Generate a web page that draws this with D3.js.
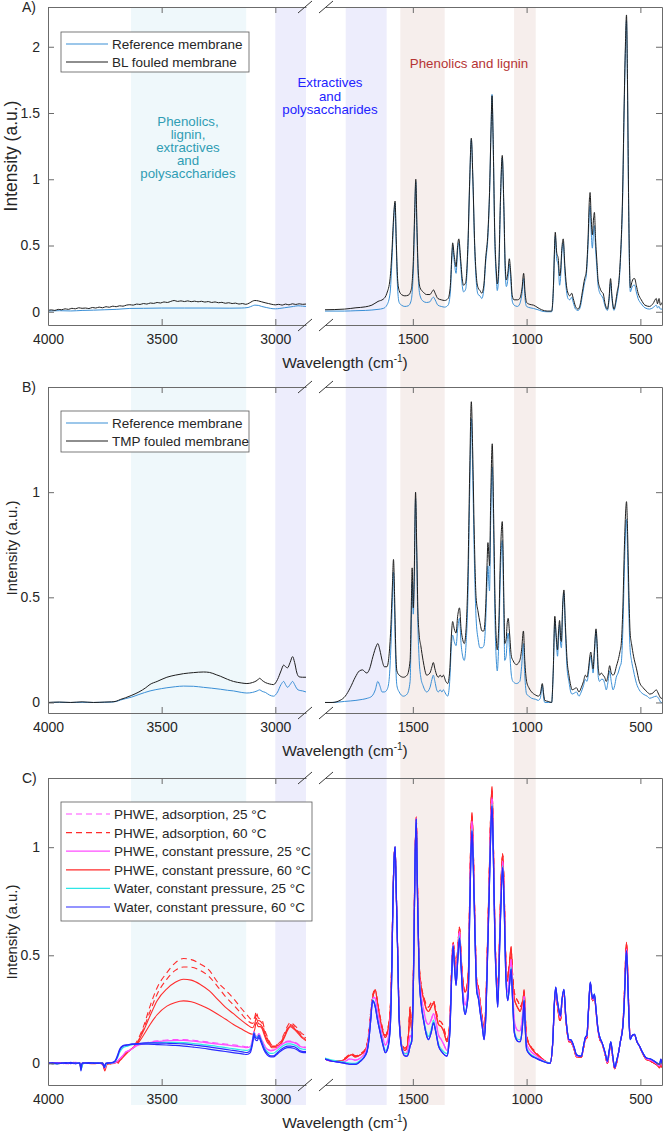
<!DOCTYPE html>
<html>
<head>
  <meta charset="utf-8">
  <title>Raman spectra of fouled membranes</title>
  <script src="https://cdn.jsdelivr.net/npm/d3@7/dist/d3.min.js"></script>
  <style>
    body { margin: 0; background: #fff; }
    svg text { font-family: "Liberation Sans", Arial, Helvetica, sans-serif; fill: #262626; }
  </style>
</head>
<body>
<div id="chart"></div>
<script>
  // ---- data: [wavenumber (cm-1), intensity (a.u.)] ----

  // tick labels
  const xTicksLeft = [4000, 3500, 3000];
  const xTicksRight = [1500, 1000, 500];
  const yTicksA = [0, 0.5, 1, 1.5, 2];
  const yTicksB = [0, 0.5, 1];
  const yTicksC = [0, 0.5, 1];

  // shaded assignment regions (wavenumber limits)
  const regionCyan = [3635, 3128];
  const regionPurple = [[3000, 2865], [1795, 1615]];
  const regionPink = [[1555, 1360], [1055, 960]];

  // panel A
  const aRefLeft = [[4000,0.005],[3950,0.008],[3900,0.006],[3850,0.01],[3800,0.012],[3750,0.015],[3700,0.018],[3640,0.025],[3580,0.026],[3500,0.028],[3400,0.028],[3300,0.028],[3200,0.027],[3150,0.028],[3120,0.032],[3100,0.045],[3090,0.05],[3075,0.048],[3060,0.04],[3040,0.032],[3020,0.025],[3000,0.022],[2980,0.025],[2960,0.03],[2940,0.035],[2920,0.04],[2900,0.045],[2880,0.042],[2865,0.04]];
  const aBLLeft = [[4000,0.01],[3985,0.014],[3970,0.01],[3955,0.018],[3940,0.015],[3925,0.022],[3910,0.018],[3895,0.026],[3880,0.022],[3865,0.03],[3850,0.026],[3835,0.028],[3820,0.024],[3805,0.032],[3790,0.028],[3775,0.035],[3760,0.03],[3745,0.038],[3730,0.034],[3715,0.042],[3700,0.038],[3685,0.045],[3670,0.042],[3655,0.05],[3640,0.053],[3625,0.05],[3610,0.058],[3595,0.055],[3580,0.062],[3565,0.058],[3550,0.066],[3535,0.063],[3520,0.07],[3505,0.066],[3490,0.074],[3475,0.07],[3460,0.078],[3445,0.085],[3430,0.078],[3415,0.082],[3400,0.077],[3385,0.082],[3370,0.076],[3355,0.08],[3340,0.075],[3325,0.079],[3310,0.073],[3295,0.077],[3280,0.07],[3265,0.074],[3250,0.068],[3235,0.071],[3220,0.064],[3205,0.068],[3190,0.062],[3175,0.065],[3160,0.058],[3145,0.062],[3130,0.056],[3115,0.065],[3100,0.08],[3090,0.085],[3075,0.082],[3060,0.075],[3045,0.068],[3030,0.062],[3015,0.056],[3000,0.052],[2985,0.056],[2970,0.05],[2955,0.058],[2940,0.052],[2925,0.06],[2910,0.055],[2895,0.06],[2880,0.056],[2865,0.058]];
  const aRefRight = [[1886,0.005],[1800,0.005],[1750,0.008],[1709,0.01],[1680,0.013],[1653,0.018],[1630,0.025],[1614,0.05],[1600,0.14],[1592,0.38],[1585,0.66],[1578,0.82],[1573,0.5],[1567,0.18],[1560,0.07],[1550,0.05],[1535,0.04],[1520,0.045],[1508,0.08],[1498,0.3],[1492,0.7],[1487,0.98],[1482,0.6],[1476,0.25],[1468,0.12],[1455,0.08],[1440,0.07],[1425,0.075],[1416,0.1],[1409,0.11],[1402,0.09],[1390,0.05],[1375,0.04],[1360,0.035],[1345,0.05],[1335,0.15],[1328,0.42],[1325,0.49],[1318,0.38],[1310,0.29],[1303,0.47],[1298,0.52],[1290,0.36],[1283,0.2],[1277,0.15],[1268,0.17],[1258,0.47],[1250,0.98],[1243,1.3],[1236,0.98],[1228,0.47],[1220,0.2],[1213,0.13],[1205,0.12],[1197,0.1],[1188,0.17],[1180,0.37],[1170,0.57],[1163,0.88],[1156,1.4],[1152,1.64],[1147,1.28],[1140,0.55],[1133,0.25],[1129,0.16],[1122,0.3],[1115,0.82],[1107,1.16],[1100,0.77],[1094,0.3],[1089,0.19],[1082,0.25],[1076,0.36],[1070,0.25],[1063,0.08],[1055,0.05],[1040,0.04],[1030,0.06],[1020,0.14],[1013,0.25],[1007,0.1],[1000,0.04],[985,0.03],[970,0.025],[950,0.015],[934,0.005],[910,0.0],[890,0.0],[882,0.18],[877,0.47],[874,0.57],[868,0.4],[861,0.35],[855,0.2],[851,0.25],[845,0.45],[839,0.52],[832,0.3],[825,0.16],[818,0.1],[810,0.09],[802,0.11],[795,0.07],[785,0.02],[774,0.01],[765,0.03],[755,0.12],[745,0.22],[738,0.27],[730,0.5],[724,0.75],[721,0.8],[716,0.6],[711,0.48],[706,0.6],[702,0.65],[697,0.48],[690,0.3],[686,0.2],[678,0.14],[670,0.12],[664,0.1],[655,0.04],[645,0.01],[638,0.08],[631,0.22],[625,0.1],[616,0.01],[608,0.06],[602,0.12],[595,0.2],[588,0.37],[584,0.52],[578,0.85],[572,1.45],[566,1.95],[561,2.2],[557,1.75],[552,0.85],[547,0.25],[544,0.15],[538,0.18],[530,0.2],[525,0.2],[518,0.15],[510,0.1],[496,0.06],[480,0.03],[460,0.02],[445,0.03],[430,0.05],[425,0.03],[418,0.04],[412,0.02],[405,0.02]];
  const aBLRight = [[1886,0.015],[1800,0.02],[1750,0.03],[1709,0.037],[1680,0.05],[1653,0.078],[1630,0.095],[1614,0.14],[1600,0.25],[1592,0.45],[1585,0.7],[1578,0.835],[1573,0.55],[1567,0.25],[1560,0.16],[1550,0.13],[1535,0.12],[1520,0.125],[1508,0.16],[1498,0.38],[1492,0.75],[1487,1.0],[1482,0.65],[1476,0.3],[1468,0.18],[1455,0.15],[1440,0.13],[1425,0.13],[1416,0.15],[1409,0.165],[1402,0.14],[1390,0.1],[1375,0.09],[1360,0.085],[1345,0.1],[1335,0.2],[1328,0.45],[1325,0.52],[1318,0.42],[1310,0.34],[1303,0.5],[1298,0.55],[1290,0.4],[1283,0.25],[1277,0.2],[1268,0.22],[1258,0.5],[1250,1.0],[1243,1.31],[1236,1.0],[1228,0.5],[1220,0.25],[1213,0.18],[1205,0.16],[1197,0.14],[1188,0.2],[1180,0.4],[1170,0.6],[1163,0.9],[1156,1.4],[1152,1.63],[1147,1.3],[1140,0.6],[1133,0.3],[1129,0.21],[1122,0.35],[1115,0.85],[1107,1.18],[1100,0.8],[1094,0.35],[1089,0.24],[1082,0.3],[1076,0.4],[1070,0.3],[1063,0.12],[1055,0.09],[1040,0.09],[1030,0.1],[1020,0.18],[1013,0.29],[1007,0.15],[1000,0.07],[985,0.055],[970,0.05],[950,0.03],[934,0.015],[910,0.005],[890,0.005],[882,0.2],[877,0.5],[874,0.6],[868,0.45],[861,0.4],[855,0.27],[851,0.3],[845,0.48],[839,0.55],[832,0.35],[825,0.2],[818,0.14],[810,0.12],[802,0.14],[795,0.1],[785,0.04],[774,0.02],[765,0.05],[755,0.15],[745,0.25],[738,0.3],[730,0.55],[724,0.85],[721,0.9],[716,0.7],[711,0.58],[706,0.7],[702,0.75],[697,0.55],[690,0.35],[686,0.24],[678,0.18],[670,0.15],[664,0.14],[655,0.06],[645,0.02],[638,0.1],[631,0.25],[625,0.12],[616,0.02],[608,0.08],[602,0.15],[595,0.22],[588,0.4],[584,0.55],[578,0.9],[572,1.5],[566,2.0],[561,2.24],[557,1.8],[552,0.9],[547,0.3],[544,0.18],[538,0.22],[530,0.25],[525,0.25],[518,0.2],[510,0.14],[496,0.09],[480,0.05],[460,0.04],[445,0.06],[430,0.1],[425,0.06],[418,0.1],[412,0.05],[405,0.07]];

  // panel B
  const bRefLeft = [[4000,0],[3950,0.001],[3900,0],[3850,0.001],[3800,0],[3750,0.001],[3720,0.002],[3700,0.005],[3680,0.012],[3660,0.018],[3634,0.025],[3600,0.038],[3551,0.055],[3500,0.066],[3477,0.07],[3440,0.075],[3404,0.078],[3360,0.077],[3316,0.072],[3280,0.068],[3242,0.063],[3210,0.058],[3184,0.055],[3150,0.048],[3125,0.045],[3100,0.048],[3080,0.055],[3069,0.06],[3058,0.053],[3044,0.048],[3025,0.035],[3008,0.03],[2990,0.05],[2975,0.085],[2963,0.1],[2955,0.085],[2946,0.072],[2935,0.085],[2924,0.1],[2915,0.085],[2905,0.065],[2895,0.058],[2880,0.055],[2865,0.05]];
  const bTMPLeft = [[4000,0],[3950,0.002],[3900,0],[3850,0.003],[3800,0],[3750,0.002],[3720,0.003],[3700,0.006],[3680,0.015],[3660,0.022],[3634,0.033],[3600,0.05],[3570,0.07],[3551,0.086],[3520,0.1],[3477,0.12],[3440,0.13],[3404,0.137],[3360,0.142],[3316,0.145],[3290,0.143],[3260,0.132],[3242,0.125],[3210,0.11],[3184,0.1],[3150,0.093],[3125,0.09],[3100,0.095],[3080,0.105],[3069,0.115],[3058,0.105],[3044,0.095],[3025,0.088],[3008,0.085],[2990,0.11],[2975,0.15],[2963,0.178],[2955,0.17],[2946,0.165],[2935,0.19],[2924,0.218],[2915,0.19],[2905,0.14],[2895,0.122],[2880,0.12],[2865,0.12]];
  const bRefRight = [[1886,0],[1855,0],[1800,0.005],[1750,0.01],[1720,0.015],[1700,0.02],[1680,0.03],[1665,0.06],[1654,0.1],[1645,0.08],[1635,0.05],[1625,0.05],[1614,0.06],[1605,0.1],[1597,0.25],[1590,0.48],[1585,0.62],[1580,0.42],[1575,0.18],[1570,0.08],[1560,0.05],[1541,0.03],[1525,0.04],[1512,0.1],[1506,0.42],[1503,0.57],[1498,0.42],[1494,0.55],[1488,0.97],[1483,0.7],[1478,0.38],[1472,0.2],[1465,0.12],[1455,0.08],[1439,0.05],[1425,0.07],[1416,0.11],[1410,0.13],[1403,0.1],[1395,0.06],[1388,0.05],[1380,0.06],[1372,0.05],[1366,0.06],[1355,0.04],[1347,0.03],[1338,0.1],[1330,0.28],[1325,0.32],[1318,0.29],[1310,0.27],[1303,0.35],[1295,0.4],[1288,0.28],[1281,0.22],[1274,0.2],[1266,0.28],[1258,0.5],[1250,1.0],[1243,1.35],[1237,1.1],[1230,0.7],[1222,0.4],[1213,0.3],[1205,0.26],[1196,0.26],[1188,0.27],[1180,0.38],[1174,0.57],[1170,0.65],[1165,0.55],[1163,0.53],[1158,0.85],[1151,1.12],[1145,0.8],[1138,0.35],[1132,0.18],[1129,0.15],[1122,0.3],[1115,0.62],[1107,0.77],[1100,0.42],[1096,0.2],[1090,0.22],[1085,0.3],[1081,0.33],[1075,0.25],[1067,0.13],[1060,0.1],[1045,0.09],[1030,0.1],[1022,0.17],[1014,0.28],[1008,0.13],[1000,0.04],[990,0.03],[978,0.02],[960,0.015],[949,0.01],[940,0.02],[931,0.08],[925,0.02],[920,0],[905,0],[890,0],[883,0.14],[876,0.39],[870,0.3],[864,0.22],[860,0.3],[855,0.37],[850,0.27],[847,0.26],[842,0.43],[836,0.52],[830,0.35],[822,0.16],[814,0.1],[806,0.05],[800,0.04],[790,0.045],[781,0.05],[770,0.03],[760,0.05],[750,0.08],[742,0.11],[735,0.1],[728,0.14],[722,0.2],[718,0.22],[712,0.17],[708,0.14],[702,0.23],[695,0.34],[690,0.25],[685,0.12],[679,0.1],[672,0.11],[664,0.11],[657,0.09],[650,0.06],[642,0.1],[635,0.15],[628,0.1],[620,0.06],[613,0.08],[606,0.12],[598,0.14],[590,0.17],[584,0.19],[577,0.35],[570,0.65],[565,0.82],[561,0.87],[556,0.7],[550,0.4],[545,0.25],[539,0.2],[530,0.15],[517,0.09],[505,0.06],[488,0.04],[470,0.03],[459,0.02],[445,0.025],[430,0.03],[420,0.02],[409,0],[405,0]];
  const bTMPRight = [[1886,0],[1855,0],[1820,0.01],[1797,0.03],[1775,0.07],[1753,0.12],[1735,0.15],[1721,0.155],[1710,0.145],[1702,0.14],[1690,0.16],[1675,0.22],[1660,0.27],[1654,0.28],[1645,0.25],[1635,0.2],[1625,0.17],[1614,0.17],[1605,0.22],[1597,0.35],[1590,0.55],[1585,0.68],[1580,0.5],[1575,0.25],[1570,0.15],[1560,0.13],[1541,0.12],[1525,0.13],[1512,0.2],[1506,0.5],[1503,0.64],[1498,0.45],[1494,0.6],[1488,1.0],[1483,0.75],[1478,0.45],[1472,0.32],[1465,0.27],[1455,0.2],[1439,0.13],[1425,0.14],[1416,0.17],[1410,0.19],[1403,0.16],[1395,0.13],[1388,0.12],[1380,0.13],[1372,0.12],[1366,0.13],[1355,0.1],[1347,0.09],[1338,0.15],[1330,0.33],[1325,0.385],[1318,0.35],[1310,0.33],[1303,0.41],[1295,0.45],[1288,0.35],[1281,0.3],[1274,0.28],[1266,0.35],[1258,0.6],[1250,1.1],[1243,1.43],[1237,1.2],[1230,0.8],[1222,0.5],[1213,0.43],[1205,0.38],[1196,0.34],[1188,0.34],[1180,0.45],[1174,0.65],[1170,0.76],[1165,0.68],[1163,0.65],[1158,0.95],[1151,1.23],[1145,0.9],[1138,0.45],[1132,0.28],[1129,0.25],[1122,0.38],[1115,0.7],[1107,0.86],[1100,0.5],[1096,0.28],[1090,0.3],[1085,0.38],[1081,0.4],[1075,0.33],[1067,0.22],[1060,0.2],[1045,0.18],[1030,0.2],[1022,0.25],[1014,0.34],[1008,0.2],[1000,0.1],[990,0.07],[978,0.05],[960,0.035],[949,0.03],[940,0.04],[931,0.09],[925,0.04],[920,0.01],[905,0.005],[890,0],[883,0.15],[876,0.41],[870,0.32],[864,0.25],[860,0.33],[855,0.39],[850,0.3],[847,0.29],[842,0.45],[836,0.535],[830,0.38],[822,0.2],[814,0.13],[806,0.08],[800,0.06],[790,0.065],[781,0.07],[770,0.05],[760,0.07],[750,0.1],[742,0.13],[735,0.12],[728,0.16],[722,0.22],[718,0.24],[712,0.19],[708,0.16],[702,0.25],[695,0.35],[690,0.28],[685,0.16],[679,0.13],[672,0.14],[664,0.13],[657,0.12],[650,0.1],[642,0.13],[635,0.175],[628,0.14],[620,0.13],[613,0.14],[606,0.17],[598,0.2],[590,0.24],[584,0.28],[577,0.45],[570,0.75],[565,0.9],[561,0.955],[556,0.8],[550,0.5],[545,0.33],[539,0.28],[530,0.22],[517,0.16],[505,0.1],[488,0.07],[470,0.05],[459,0.04],[445,0.045],[430,0.06],[420,0.04],[409,0.02],[405,0.02]];

  // panel C, high wavenumber side (one array per curve)
  const cRedDashLeft1 = [[4000,0],[3960,0.003],[3920,-0.002],[3880,0.005],[3860,0],[3855,-0.02],[3845,0],[3800,0.002],[3760,-0.005],[3750,-0.03],[3740,-0.005],[3720,0],[3700,0.01],[3690,0],[3680,0.02],[3665,0.04],[3640,0.06],[3610,0.1],[3580,0.17],[3551,0.265],[3520,0.35],[3477,0.42],[3440,0.465],[3404,0.485],[3370,0.48],[3330,0.46],[3290,0.43],[3257,0.38],[3220,0.34],[3184,0.3],[3150,0.255],[3125,0.225],[3100,0.2],[3090,0.215],[3084,0.24],[3075,0.21],[3066,0.205],[3058,0.2],[3048,0.16],[3037,0.128],[3025,0.1],[3015,0.085],[3000,0.085],[2978,0.1],[2960,0.14],[2945,0.175],[2934,0.19],[2920,0.18],[2905,0.165],[2885,0.14],[2865,0.128]];
  const cRedDashLeft2 = [[4000,0.002],[3960,0],[3920,0.003],[3880,-0.002],[3860,0.002],[3855,-0.015],[3845,0.002],[3800,0],[3760,0.002],[3750,-0.025],[3740,0],[3720,-0.003],[3700,0.005],[3690,0.01],[3680,0.018],[3665,0.035],[3640,0.06],[3610,0.09],[3580,0.16],[3551,0.24],[3520,0.32],[3477,0.39],[3440,0.43],[3404,0.446],[3370,0.445],[3330,0.43],[3290,0.4],[3257,0.36],[3220,0.31],[3184,0.27],[3150,0.23],[3125,0.2],[3100,0.185],[3090,0.2],[3084,0.225],[3075,0.2],[3066,0.195],[3058,0.185],[3048,0.15],[3037,0.12],[3025,0.095],[3015,0.08],[3000,0.08],[2978,0.095],[2960,0.13],[2945,0.165],[2934,0.18],[2920,0.172],[2905,0.155],[2885,0.13],[2865,0.118]];
  const cRedSolidLeft1 = [[4000,-0.002],[3960,0.002],[3920,0],[3880,0.004],[3860,-0.002],[3855,-0.025],[3845,0],[3800,0.003],[3760,0],[3750,-0.035],[3740,-0.003],[3720,0.002],[3700,0.008],[3690,0.003],[3680,0.02],[3665,0.04],[3640,0.06],[3610,0.09],[3580,0.15],[3551,0.22],[3520,0.29],[3477,0.345],[3440,0.375],[3404,0.389],[3370,0.385],[3330,0.365],[3290,0.335],[3257,0.3],[3220,0.26],[3184,0.23],[3150,0.2],[3125,0.18],[3100,0.165],[3090,0.185],[3084,0.21],[3075,0.185],[3066,0.18],[3058,0.17],[3048,0.14],[3037,0.11],[3025,0.09],[3015,0.078],[3000,0.078],[2978,0.09],[2960,0.125],[2945,0.16],[2934,0.175],[2920,0.165],[2905,0.15],[2885,0.125],[2865,0.11]];
  const cRedSolidLeft2 = [[4000,0.001],[3960,-0.002],[3920,0.004],[3880,0],[3860,0.003],[3855,-0.01],[3845,0.002],[3800,-0.002],[3760,0.003],[3750,-0.02],[3740,0.002],[3720,-0.002],[3700,0.004],[3690,0.012],[3680,0.016],[3665,0.035],[3640,0.06],[3610,0.085],[3580,0.13],[3551,0.18],[3520,0.225],[3477,0.265],[3440,0.282],[3404,0.289],[3370,0.285],[3330,0.27],[3290,0.25],[3257,0.23],[3220,0.205],[3184,0.18],[3150,0.16],[3125,0.145],[3100,0.135],[3090,0.16],[3084,0.19],[3075,0.17],[3066,0.17],[3058,0.16],[3048,0.13],[3037,0.1],[3025,0.085],[3015,0.072],[3000,0.072],[2978,0.085],[2960,0.12],[2945,0.155],[2934,0.17],[2920,0.16],[2905,0.145],[2885,0.12],[2865,0.105]];
  const cMagDashLeft = [[4000,0.002],[3960,0],[3920,0.004],[3880,0.001],[3860,0.003],[3855,-0.012],[3845,0.002],[3800,0.001],[3760,0.003],[3750,-0.015],[3740,0.002],[3720,0.001],[3700,0.006],[3690,0.016],[3675,0.032],[3660,0.052],[3640,0.062],[3620,0.078],[3600,0.088],[3560,0.098],[3520,0.104],[3480,0.108],[3440,0.11],[3404,0.11],[3360,0.107],[3320,0.102],[3280,0.097],[3240,0.092],[3200,0.087],[3160,0.082],[3140,0.079],[3125,0.077],[3110,0.082],[3100,0.113],[3094,0.148],[3088,0.133],[3080,0.128],[3072,0.138],[3064,0.123],[3050,0.088],[3035,0.068],[3020,0.061],[3008,0.063],[2995,0.071],[2980,0.083],[2960,0.098],[2945,0.103],[2934,0.103],[2920,0.1],[2905,0.093],[2890,0.081],[2875,0.077],[2865,0.075]];
  const cMagSolidLeft = [[4000,0],[3960,0.003],[3920,-0.001],[3880,0.004],[3860,0],[3855,-0.018],[3845,0.001],[3800,0.002],[3760,-0.002],[3750,-0.022],[3740,0],[3720,0.003],[3700,0.005],[3690,0.015],[3675,0.03],[3660,0.05],[3640,0.06],[3620,0.075],[3600,0.085],[3560,0.095],[3520,0.1],[3480,0.104],[3440,0.106],[3404,0.106],[3360,0.103],[3320,0.098],[3280,0.093],[3240,0.088],[3200,0.083],[3160,0.078],[3140,0.075],[3125,0.073],[3110,0.078],[3100,0.11],[3094,0.145],[3088,0.13],[3080,0.125],[3072,0.135],[3064,0.12],[3050,0.085],[3035,0.065],[3020,0.058],[3008,0.06],[2995,0.068],[2980,0.08],[2960,0.095],[2945,0.1],[2934,0.1],[2920,0.097],[2905,0.09],[2890,0.078],[2875,0.074],[2865,0.072]];
  const cCyanLeft = [[4000,0.001],[3960,-0.002],[3920,0.003],[3880,0],[3860,0.002],[3855,-0.03],[3845,0],[3800,0.002],[3760,0.001],[3750,-0.018],[3740,0.001],[3720,0.002],[3705,0.008],[3695,0.025],[3685,0.05],[3670,0.072],[3650,0.08],[3630,0.086],[3600,0.09],[3560,0.094],[3520,0.096],[3480,0.097],[3440,0.097],[3404,0.096],[3360,0.092],[3320,0.087],[3280,0.082],[3240,0.076],[3200,0.07],[3160,0.064],[3140,0.061],[3125,0.06],[3110,0.068],[3100,0.105],[3094,0.142],[3088,0.126],[3080,0.12],[3072,0.132],[3064,0.115],[3050,0.077],[3035,0.054],[3020,0.046],[3008,0.047],[2995,0.056],[2980,0.07],[2960,0.085],[2945,0.09],[2934,0.09],[2920,0.087],[2905,0.08],[2890,0.068],[2875,0.065],[2865,0.064]];
  const cBlueLeft1 = [[4000,0],[3980,0.004],[3960,-0.002],[3940,0.003],[3920,0],[3900,0.005],[3880,-0.002],[3860,0.003],[3855,-0.035],[3850,0],[3820,0.004],[3800,0],[3780,0.003],[3760,-0.003],[3752,-0.02],[3745,0],[3720,0.004],[3705,0.01],[3695,0.03],[3685,0.06],[3670,0.08],[3650,0.085],[3630,0.09],[3600,0.092],[3560,0.095],[3520,0.094],[3480,0.093],[3440,0.092],[3404,0.09],[3360,0.085],[3320,0.08],[3280,0.074],[3240,0.068],[3200,0.062],[3160,0.056],[3140,0.052],[3125,0.05],[3110,0.06],[3100,0.1],[3094,0.14],[3088,0.12],[3080,0.115],[3072,0.13],[3064,0.11],[3050,0.07],[3035,0.045],[3020,0.035],[3008,0.035],[2995,0.045],[2980,0.06],[2960,0.075],[2945,0.08],[2934,0.08],[2920,0.078],[2905,0.07],[2890,0.058],[2875,0.055],[2865,0.055]];
  const cBlueLeft2 = [[4000,0.002],[3980,-0.001],[3960,0.003],[3940,0],[3920,0.004],[3900,-0.001],[3880,0.003],[3860,0],[3855,-0.02],[3850,0.002],[3820,0],[3800,0.003],[3780,0],[3760,0.002],[3752,-0.012],[3745,0.001],[3720,0.002],[3705,0.012],[3695,0.035],[3685,0.065],[3670,0.082],[3650,0.086],[3630,0.088],[3600,0.089],[3560,0.089],[3520,0.087],[3480,0.085],[3440,0.083],[3404,0.08],[3360,0.075],[3320,0.07],[3280,0.064],[3240,0.058],[3200,0.052],[3160,0.046],[3140,0.043],[3125,0.041],[3110,0.05],[3100,0.09],[3094,0.13],[3088,0.11],[3080,0.105],[3072,0.12],[3064,0.1],[3050,0.062],[3035,0.038],[3020,0.03],[3008,0.03],[2995,0.04],[2980,0.054],[2960,0.068],[2945,0.073],[2934,0.073],[2920,0.07],[2905,0.063],[2890,0.053],[2875,0.05],[2865,0.05]];

  // panel C, fingerprint side (one array per colour group)
  const cRedDashRight = [[1886,0.02],[1855,0.012],[1820,0.012],[1797,0.025],[1780,0.04],[1770,0.045],[1753,0.035],[1730,0.045],[1709,0.065],[1700,0.095],[1694,0.14],[1685,0.24],[1677,0.31],[1670,0.335],[1665,0.335],[1655,0.28],[1643,0.21],[1630,0.15],[1621,0.13],[1610,0.16],[1599,0.26],[1592,0.5],[1588,0.73],[1582,0.96],[1578,1.0],[1573,0.8],[1566,0.5],[1560,0.23],[1548,0.09],[1535,0.07],[1526,0.08],[1518,0.16],[1512,0.26],[1505,0.16],[1497,0.45],[1490,0.97],[1485,1.14],[1480,0.85],[1472,0.46],[1463,0.36],[1453,0.31],[1440,0.27],[1431,0.26],[1420,0.28],[1409,0.29],[1400,0.25],[1387,0.2],[1375,0.19],[1365,0.17],[1350,0.11],[1342,0.14],[1336,0.23],[1330,0.43],[1323,0.56],[1317,0.5],[1310,0.43],[1303,0.53],[1295,0.63],[1288,0.5],[1280,0.38],[1270,0.33],[1263,0.35],[1256,0.42],[1250,0.78],[1245,1.04],[1240,1.14],[1234,0.97],[1226,0.6],[1219,0.38],[1212,0.35],[1204,0.28],[1195,0.21],[1187,0.16],[1180,0.25],[1172,0.55],[1164,0.88],[1158,1.14],[1152,1.26],[1146,1.01],[1139,0.6],[1132,0.4],[1127,0.32],[1122,0.45],[1117,0.66],[1110,0.89],[1105,0.96],[1098,0.77],[1092,0.5],[1083,0.4],[1076,0.46],[1068,0.52],[1062,0.42],[1054,0.33],[1045,0.3],[1035,0.28],[1029,0.26],[1020,0.28],[1015,0.3],[1011,0.33],[1005,0.2],[1000,0.13],[985,0.085],[963,0.055],[930,0.02],[897,0.0],[885,0.1],[878,0.27],[872,0.34],[866,0.28],[861,0.24],[855,0.2],[851,0.2],[845,0.28],[836,0.33],[828,0.21],[820,0.13],[814,0.1],[807,0.1],[800,0.09],[790,0.06],[781,0.03],[770,0.03],[759,0.03],[750,0.07],[742,0.11],[735,0.12],[728,0.24],[720,0.37],[714,0.31],[709,0.29],[702,0.31],[695,0.24],[686,0.15],[678,0.11],[668,0.09],[655,0.04],[645,0.0],[637,0.05],[630,0.09],[622,0.03],[613,-0.025],[605,0.0],[596,0.05],[588,0.1],[577,0.18],[570,0.33],[565,0.48],[561,0.55],[556,0.43],[550,0.22],[545,0.12],[535,0.13],[526,0.13],[515,0.1],[504,0.08],[490,0.045],[475,0.02],[455,0.01],[438,0.0],[425,-0.01],[416,-0.02],[410,0.0],[405,-0.02]];
  const cRedSolidRight = [[1886,0.02],[1855,0.01],[1820,0.01],[1797,0.02],[1780,0.035],[1770,0.04],[1753,0.03],[1730,0.04],[1709,0.06],[1700,0.09],[1694,0.13],[1685,0.23],[1677,0.3],[1670,0.33],[1665,0.34],[1655,0.28],[1643,0.2],[1630,0.14],[1621,0.12],[1610,0.15],[1599,0.25],[1592,0.5],[1588,0.73],[1582,0.96],[1578,1.0],[1573,0.8],[1566,0.5],[1560,0.22],[1548,0.08],[1535,0.06],[1526,0.07],[1518,0.15],[1512,0.25],[1505,0.15],[1497,0.45],[1490,0.97],[1485,1.14],[1480,0.85],[1472,0.45],[1463,0.35],[1453,0.3],[1440,0.25],[1431,0.24],[1420,0.26],[1409,0.28],[1400,0.24],[1387,0.18],[1375,0.17],[1365,0.15],[1350,0.1],[1342,0.13],[1336,0.22],[1330,0.42],[1323,0.56],[1317,0.5],[1310,0.42],[1303,0.52],[1295,0.63],[1288,0.5],[1280,0.38],[1270,0.33],[1263,0.35],[1256,0.42],[1250,0.78],[1245,1.05],[1240,1.16],[1234,0.98],[1226,0.6],[1219,0.38],[1212,0.35],[1204,0.28],[1195,0.21],[1187,0.16],[1180,0.25],[1172,0.55],[1164,0.88],[1158,1.15],[1152,1.28],[1146,1.02],[1139,0.6],[1132,0.4],[1127,0.32],[1122,0.45],[1117,0.66],[1110,0.9],[1105,0.97],[1098,0.77],[1092,0.5],[1083,0.38],[1076,0.45],[1068,0.54],[1062,0.4],[1054,0.3],[1045,0.27],[1035,0.25],[1029,0.24],[1020,0.27],[1015,0.3],[1011,0.34],[1005,0.2],[1000,0.12],[985,0.08],[963,0.05],[930,0.02],[897,0.0],[885,0.1],[878,0.27],[872,0.34],[866,0.28],[861,0.24],[855,0.2],[851,0.2],[845,0.28],[836,0.33],[828,0.21],[820,0.13],[814,0.1],[807,0.1],[800,0.09],[790,0.06],[781,0.03],[770,0.03],[759,0.03],[750,0.07],[742,0.11],[735,0.12],[728,0.24],[720,0.37],[714,0.31],[709,0.29],[702,0.31],[695,0.24],[686,0.15],[678,0.11],[668,0.09],[655,0.04],[645,0.0],[637,0.05],[630,0.09],[622,0.03],[613,-0.025],[605,0.0],[596,0.05],[588,0.1],[577,0.18],[570,0.33],[565,0.49],[561,0.56],[556,0.44],[550,0.22],[545,0.12],[535,0.13],[526,0.13],[515,0.1],[504,0.08],[490,0.045],[475,0.02],[455,0.01],[438,0.0],[425,-0.01],[416,-0.02],[410,0.0],[405,-0.02]];
  const cMagRight = [[1886,0.02],[1855,0.01],[1820,0.008],[1797,0.01],[1780,0.02],[1770,0.02],[1753,0.015],[1730,0.025],[1709,0.05],[1700,0.08],[1694,0.12],[1685,0.22],[1677,0.3],[1670,0.305],[1665,0.3],[1655,0.24],[1643,0.17],[1630,0.11],[1621,0.085],[1610,0.11],[1599,0.21],[1592,0.47],[1588,0.72],[1582,0.95],[1578,1.0],[1573,0.8],[1566,0.49],[1560,0.21],[1548,0.075],[1535,0.045],[1526,0.05],[1518,0.09],[1512,0.13],[1505,0.12],[1497,0.42],[1490,0.96],[1485,1.135],[1480,0.82],[1472,0.42],[1463,0.31],[1453,0.25],[1440,0.19],[1431,0.18],[1420,0.2],[1409,0.23],[1400,0.2],[1387,0.13],[1375,0.11],[1365,0.09],[1350,0.06],[1342,0.1],[1336,0.2],[1330,0.4],[1323,0.55],[1317,0.47],[1310,0.39],[1303,0.5],[1295,0.61],[1288,0.48],[1280,0.34],[1270,0.27],[1263,0.3],[1256,0.37],[1250,0.74],[1245,1.0],[1240,1.12],[1234,0.94],[1226,0.58],[1219,0.36],[1212,0.33],[1204,0.26],[1195,0.19],[1187,0.13],[1180,0.22],[1172,0.51],[1164,0.84],[1158,1.1],[1152,1.23],[1146,0.98],[1139,0.58],[1132,0.38],[1127,0.29],[1122,0.43],[1117,0.63],[1110,0.86],[1105,0.935],[1098,0.74],[1092,0.46],[1083,0.33],[1076,0.4],[1068,0.48],[1062,0.35],[1054,0.2],[1045,0.16],[1035,0.15],[1029,0.15],[1020,0.2],[1015,0.26],[1011,0.31],[1005,0.17],[1000,0.09],[985,0.06],[963,0.04],[930,0.015],[897,0.0],[885,0.1],[878,0.275],[872,0.345],[866,0.29],[861,0.255],[855,0.22],[851,0.21],[845,0.285],[836,0.335],[828,0.215],[820,0.135],[814,0.105],[807,0.105],[800,0.095],[790,0.065],[781,0.035],[770,0.032],[759,0.032],[750,0.075],[742,0.115],[735,0.125],[728,0.245],[720,0.372],[714,0.315],[709,0.295],[702,0.315],[695,0.245],[686,0.153],[678,0.115],[668,0.092],[655,0.045],[645,0.005],[637,0.055],[630,0.095],[622,0.035],[613,-0.022],[605,0.005],[596,0.05],[588,0.1],[577,0.175],[570,0.31],[565,0.46],[561,0.53],[556,0.41],[550,0.21],[545,0.115],[535,0.13],[526,0.132],[515,0.1],[504,0.08],[490,0.048],[475,0.023],[455,0.015],[438,0.005],[425,-0.005],[416,-0.012],[410,0.01],[405,-0.01]];
  const cCyanRight = [[1886,0.025],[1855,0.015],[1820,0.01],[1797,0.005],[1770,0.0],[1753,0.0],[1730,0.015],[1709,0.04],[1700,0.065],[1694,0.105],[1685,0.21],[1677,0.295],[1670,0.285],[1665,0.27],[1655,0.21],[1643,0.15],[1630,0.09],[1621,0.06],[1610,0.08],[1599,0.18],[1592,0.46],[1588,0.72],[1582,0.95],[1578,1.0],[1573,0.8],[1566,0.48],[1560,0.21],[1548,0.075],[1535,0.045],[1526,0.045],[1518,0.06],[1512,0.09],[1505,0.11],[1497,0.41],[1490,0.95],[1485,1.13],[1480,0.8],[1472,0.41],[1463,0.28],[1453,0.21],[1440,0.145],[1431,0.125],[1420,0.155],[1409,0.2],[1400,0.16],[1387,0.09],[1370,0.06],[1350,0.045],[1342,0.09],[1336,0.18],[1330,0.39],[1323,0.545],[1317,0.46],[1310,0.37],[1303,0.48],[1295,0.59],[1288,0.46],[1280,0.31],[1270,0.235],[1263,0.27],[1256,0.34],[1250,0.71],[1245,0.96],[1240,1.085],[1234,0.91],[1226,0.56],[1219,0.34],[1212,0.31],[1204,0.245],[1195,0.18],[1187,0.12],[1180,0.21],[1172,0.49],[1164,0.81],[1158,1.06],[1152,1.2],[1146,0.96],[1139,0.56],[1132,0.36],[1127,0.27],[1122,0.41],[1117,0.61],[1110,0.83],[1105,0.915],[1098,0.71],[1092,0.43],[1083,0.3],[1076,0.36],[1068,0.445],[1062,0.31],[1054,0.155],[1045,0.12],[1035,0.11],[1029,0.11],[1020,0.16],[1015,0.23],[1011,0.295],[1005,0.15],[1000,0.075],[985,0.045],[963,0.03],[930,0.012],[897,0.002],[885,0.1],[878,0.28],[872,0.35],[866,0.3],[861,0.262],[855,0.228],[851,0.218],[845,0.288],[836,0.34],[828,0.22],[820,0.14],[814,0.11],[807,0.11],[800,0.1],[790,0.07],[781,0.04],[770,0.035],[759,0.035],[750,0.08],[742,0.12],[735,0.13],[728,0.25],[720,0.375],[714,0.32],[709,0.3],[702,0.32],[695,0.25],[686,0.157],[678,0.12],[668,0.095],[655,0.05],[645,0.01],[637,0.06],[630,0.1],[622,0.04],[613,-0.018],[605,0.01],[596,0.05],[588,0.1],[577,0.17],[570,0.3],[565,0.45],[561,0.52],[556,0.4],[550,0.2],[545,0.11],[535,0.13],[526,0.134],[515,0.1],[504,0.08],[490,0.05],[475,0.026],[455,0.02],[438,0.01],[425,0.0],[416,-0.005],[410,0.015],[405,0.0]];
  const cBlueRight = [[1886,0.02],[1855,0.01],[1820,0.005],[1797,0.0],[1770,-0.005],[1753,-0.005],[1730,0.01],[1709,0.036],[1700,0.06],[1694,0.1],[1685,0.2],[1677,0.29],[1670,0.28],[1665,0.26],[1655,0.2],[1643,0.14],[1630,0.08],[1621,0.05],[1610,0.07],[1599,0.17],[1592,0.45],[1588,0.713],[1582,0.95],[1578,1.003],[1573,0.8],[1566,0.48],[1560,0.2],[1548,0.065],[1535,0.035],[1526,0.034],[1518,0.05],[1512,0.08],[1505,0.1],[1497,0.4],[1490,0.95],[1485,1.13],[1480,0.8],[1472,0.4],[1463,0.27],[1453,0.2],[1440,0.13],[1431,0.11],[1420,0.14],[1409,0.187],[1400,0.15],[1387,0.08],[1370,0.05],[1350,0.034],[1342,0.08],[1336,0.17],[1330,0.38],[1323,0.543],[1317,0.45],[1310,0.36],[1303,0.47],[1295,0.58],[1288,0.45],[1280,0.3],[1270,0.226],[1263,0.26],[1256,0.33],[1250,0.7],[1245,0.95],[1240,1.075],[1234,0.9],[1226,0.55],[1219,0.33],[1212,0.3],[1204,0.235],[1195,0.17],[1187,0.11],[1180,0.2],[1172,0.48],[1164,0.8],[1158,1.05],[1152,1.19],[1146,0.95],[1139,0.55],[1132,0.35],[1127,0.26],[1122,0.4],[1117,0.6],[1110,0.82],[1105,0.906],[1098,0.7],[1092,0.42],[1083,0.29],[1076,0.35],[1068,0.436],[1062,0.3],[1054,0.142],[1045,0.11],[1035,0.1],[1029,0.1],[1020,0.15],[1015,0.22],[1011,0.29],[1005,0.14],[1000,0.065],[985,0.04],[963,0.026],[930,0.01],[897,0.0],[885,0.1],[878,0.28],[872,0.353],[866,0.3],[861,0.265],[855,0.23],[851,0.22],[845,0.29],[836,0.343],[828,0.22],[820,0.14],[814,0.11],[807,0.11],[800,0.1],[790,0.07],[781,0.04],[770,0.035],[759,0.034],[750,0.08],[742,0.12],[735,0.13],[728,0.25],[720,0.376],[714,0.32],[709,0.3],[702,0.32],[695,0.25],[686,0.157],[678,0.12],[668,0.095],[655,0.05],[645,0.01],[637,0.06],[630,0.1],[622,0.04],[613,-0.02],[605,0.01],[596,0.05],[588,0.1],[577,0.17],[570,0.3],[565,0.45],[561,0.52],[556,0.4],[550,0.2],[545,0.11],[535,0.13],[526,0.134],[515,0.1],[504,0.08],[490,0.05],[475,0.026],[455,0.02],[438,0.01],[425,0.0],[416,-0.005],[410,0.02],[405,0.0]];

  // ---- layout ----
  const width = 664, height = 1134;
  const axisColor = "#6b6b6b";

  const svg = d3.select("#chart")
    .append("svg")
      .attr("width", width)
      .attr("height", height);

  // the broken x axis: two linear pieces sharing the same cm-1 per pixel
  const xLeft = d3.scaleLinear().domain([4000, 2865]).range([48, 306]);
  const xRight = d3.scaleLinear().domain([1886, 405]).range([325, 662]);
  const xFor = (wn) => wn > 2400 ? xLeft : xRight;

  // shaded bands run through all three panels
  const bandTop = 7, bandBottom = 1105;
  const bands = [
    {range: regionCyan, color: "#eff8fb"},
    {range: regionPurple[0], color: "#ededfc"},
    {range: regionPurple[1], color: "#ededfc"},
    {range: regionPink[0], color: "#f6eeec"},
    {range: regionPink[1], color: "#f6eeec"}
  ];
  svg.append("g")
    .selectAll("rect")
    .data(bands)
    .enter()
    .append("rect")
      .attr("x", d => xFor(d.range[0])(d.range[0]))
      .attr("width", d => xFor(d.range[0])(d.range[1]) - xFor(d.range[0])(d.range[0]))
      .attr("y", bandTop)
      .attr("height", bandBottom - bandTop)
      .attr("fill", d => d.color);

  const panels = [
    {
      label: "A)", top: 7, bottom: 325, yDomain: [-0.1, 2.3], yTicks: yTicksA,
      yLabelY: 156, yLabelSize: 17.5,
      series: [
        {name: "Reference membrane", color: "#3a8fd6", width: 1, left: aRefLeft, right: aRefRight, legend: true},
        {name: "BL fouled membrane", color: "#1e1e1e", width: 1, left: aBLLeft, right: aBLRight, legend: true}
      ],
      legendBox: {x: 61, y: 32, w: 188, h: 40, rowStep: 18, lineLen: 42}
    },
    {
      label: "B)", top: 387, bottom: 713, yDomain: [-0.05, 1.5], yTicks: yTicksB,
      yLabelY: 548, yLabelSize: 15,
      series: [
        {name: "Reference membrane", color: "#3a8fd6", width: 1, left: bRefLeft, right: bRefRight, legend: true},
        {name: "TMP fouled membrane", color: "#1e1e1e", width: 1, left: bTMPLeft, right: bTMPRight, legend: true}
      ],
      legendBox: {x: 61, y: 411, w: 188, h: 41, rowStep: 18, lineLen: 42}
    },
    {
      label: "C)", top: 778, bottom: 1085, yDomain: [-0.1, 1.32], yTicks: yTicksC,
      yLabelY: 932, yLabelSize: 15,
      series: [
        {name: "PHWE, adsorption, 60 °C", color: "#ff2b2b", width: 1.1, dash: "6,4", left: cRedDashLeft1, right: cRedDashRight, legend: false},
        {name: "PHWE, adsorption, 60 °C", color: "#ff2b2b", width: 1.1, dash: "6,4", left: cRedDashLeft2, right: cRedDashRight, legend: false},
        {name: "PHWE, constant pressure, 60 °C", color: "#ff2b2b", width: 1.1, left: cRedSolidLeft1, right: cRedSolidRight, legend: false},
        {name: "PHWE, constant pressure, 60 °C", color: "#ff2b2b", width: 1.1, left: cRedSolidLeft2, right: cRedSolidRight, legend: false},
        {name: "PHWE, adsorption, 25 °C", color: "#ff4dff", width: 1.1, dash: "6,4", left: cMagDashLeft, right: cMagRight, legend: false},
        {name: "PHWE, constant pressure, 25 °C", color: "#ff4dff", width: 1.3, left: cMagSolidLeft, right: cMagRight, legend: false},
        {name: "Water, constant pressure, 25 °C", color: "#2ee6e6", width: 1.2, left: cCyanLeft, right: cCyanRight, legend: false},
        {name: "Water, constant pressure, 60 °C", color: "#2a2aff", width: 1.2, left: cBlueLeft2, right: cBlueRight, legend: false},
        {name: "Water, constant pressure, 60 °C", color: "#2a2aff", width: 1.2, left: cBlueLeft1, right: cBlueRight, legend: false}
      ],
      legendItems: [
        {name: "PHWE, adsorption, 25 °C", color: "#ff4dff", dash: "6,4"},
        {name: "PHWE, adsorption, 60 °C", color: "#ff2b2b", dash: "6,4"},
        {name: "PHWE, constant pressure, 25 °C", color: "#ff4dff"},
        {name: "PHWE, constant pressure, 60 °C", color: "#ff2b2b"},
        {name: "Water, constant pressure, 25 °C", color: "#2ee6e6"},
        {name: "Water, constant pressure, 60 °C", color: "#2a2aff"}
      ],
      legendBox: {x: 61, y: 802, w: 251, h: 119, rowStep: 18.6, lineLen: 44}
    }
  ];

  function styleAxis(g, fontSize) {
    g.attr("font-family", "Liberation Sans, Arial, sans-serif").attr("font-size", fontSize);
    g.selectAll("path.domain").attr("stroke", axisColor);
    g.selectAll(".tick line").attr("stroke", axisColor);
    g.selectAll(".tick text").attr("fill", "#262626");
  }

  panels.forEach((p, i) => {
    const g = svg.append("g");
    const y = d3.scaleLinear().domain(p.yDomain).range([p.bottom, p.top]);

    // clip each half of the broken plot
    const pieces = [
      {scale: xLeft, key: "left", id: "clipL" + i},
      {scale: xRight, key: "right", id: "clipR" + i}
    ];
    pieces.forEach(pc => {
      const r = pc.scale.range();
      g.append("clipPath").attr("id", pc.id)
        .append("rect")
          .attr("x", r[0]).attr("y", p.top)
          .attr("width", r[1] - r[0]).attr("height", p.bottom - p.top);
    });

    // spectra
    p.series.forEach(s => {
      pieces.forEach(pc => {
        const line = d3.line()
          .x(d => pc.scale(d[0]))
          .y(d => y(d[1]))
          .curve(d3.curveMonotoneX);
        g.append("path")
          .datum(s[pc.key])
          .attr("clip-path", "url(#" + pc.id + ")")
          .attr("fill", "none")
          .attr("stroke", s.color)
          .attr("stroke-width", s.width)
          .attr("stroke-dasharray", s.dash || null)
          .attr("stroke-linejoin", "round")
          .attr("d", line);
      });
    });

    // x axes (bottom with labels, top ticks only), ticks pointing inside
    const plain = d => String(d);
    g.append("g")
      .attr("transform", "translate(0," + p.bottom + ")")
      .call(d3.axisBottom(xLeft).tickValues(xTicksLeft).tickSizeInner(-6).tickSizeOuter(0).tickPadding(9).tickFormat(plain))
      .call(ax => styleAxis(ax, 14));
    g.append("g")
      .attr("transform", "translate(0," + p.bottom + ")")
      .call(d3.axisBottom(xRight).tickValues(xTicksRight).tickSizeInner(-6).tickSizeOuter(0).tickPadding(9).tickFormat(plain))
      .call(ax => styleAxis(ax, 14));
    g.append("g")
      .attr("transform", "translate(0," + p.top + ")")
      .call(d3.axisTop(xLeft).tickValues(xTicksLeft).tickSizeInner(-6).tickSizeOuter(0).tickFormat(""))
      .call(ax => styleAxis(ax, 14));
    g.append("g")
      .attr("transform", "translate(0," + p.top + ")")
      .call(d3.axisTop(xRight).tickValues(xTicksRight).tickSizeInner(-6).tickSizeOuter(0).tickFormat(""))
      .call(ax => styleAxis(ax, 14));

    // y axes
    g.append("g")
      .attr("transform", "translate(48,0)")
      .call(d3.axisLeft(y).tickValues(p.yTicks).tickSizeInner(-6).tickSizeOuter(0).tickPadding(8).tickFormat(plain))
      .call(ax => styleAxis(ax, 14));
    g.append("g")
      .attr("transform", "translate(662,0)")
      .call(d3.axisRight(y).tickValues(p.yTicks).tickSizeInner(-6).tickSizeOuter(0).tickFormat(""))
      .call(ax => styleAxis(ax, 14));

    // axis break marks
    [p.top, p.bottom].forEach(yy => {
      [305, 326].forEach(cx => {
        g.append("line")
          .attr("x1", cx - 7).attr("y1", yy + 6)
          .attr("x2", cx + 7).attr("y2", yy - 6)
          .attr("stroke", "#3a3a3a")
          .attr("stroke-width", 1);
      });
    });

    // panel letter
    g.append("text")
      .attr("x", 22).attr("y", p.top + 5)
      .attr("font-size", 14)
      .text(p.label);

    // axis titles
    g.append("text")
      .attr("transform", "translate(17," + p.yLabelY + ") rotate(-90)")
      .attr("text-anchor", "middle")
      .attr("font-size", p.yLabelSize)
      .text("Intensity (a.u.)");
    const xt = g.append("text")
      .attr("x", 345).attr("y", p.bottom + 43)
      .attr("text-anchor", "middle")
      .attr("font-size", 15.5);
    xt.append("tspan").text("Wavelength (cm");
    xt.append("tspan").attr("dy", -6).attr("font-size", 10).text("-1");
    xt.append("tspan").attr("dy", 6).text(")");

    // legend
    const lb = p.legendBox;
    const items = p.legendItems || p.series.filter(s => s.legend);
    const lg = g.append("g");
    lg.append("rect")
      .attr("x", lb.x).attr("y", lb.y)
      .attr("width", lb.w).attr("height", lb.h)
      .attr("fill", "#fff")
      .attr("stroke", "#5a5a5a")
      .attr("stroke-width", 0.8);
    items.forEach((it, k) => {
      const ry = lb.y + 12 + k * lb.rowStep;
      lg.append("line")
        .attr("x1", lb.x + 5).attr("x2", lb.x + 5 + lb.lineLen)
        .attr("y1", ry).attr("y2", ry)
        .attr("stroke", it.color)
        .attr("stroke-width", 1.2)
        .attr("stroke-dasharray", it.dash || null);
      lg.append("text")
        .attr("x", lb.x + lb.lineLen + 9).attr("y", ry + 5)
        .attr("font-size", 13.5)
        .text(it.name);
    });
  });

  // region annotations in panel A
  const notes = [
    {lines: ["Phenolics,", "lignin,", "extractives", "and", "polysaccharides"], x: 188, y: 126, step: 13, color: "#2f9db4"},
    {lines: ["Extractives", "and", "polysaccharides"], x: 330, y: 87, step: 13.5, color: "#2222ff"},
    {lines: ["Phenolics and lignin"], x: 469, y: 68, step: 13, color: "#b53434"}
  ];
  notes.forEach(n => {
    n.lines.forEach((t, k) => {
      svg.append("text")
        .attr("x", n.x).attr("y", n.y + k * n.step)
        .attr("text-anchor", "middle")
        .attr("font-size", 13.3)
        .style("fill", n.color)
        .text(t);
    });
  });
</script>
</body>
</html>
